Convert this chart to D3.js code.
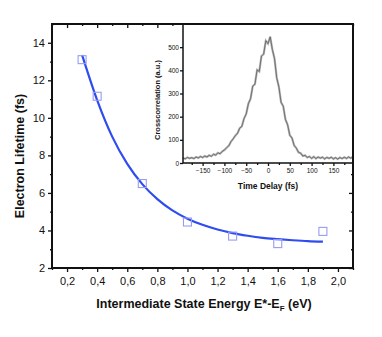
<!DOCTYPE html>
<html>
<head>
<meta charset="utf-8">
<script src="https://cdn.jsdelivr.net/npm/d3@7"></script>
<style>
  body { margin: 0; background: #fff; }
  text { font-family: "Liberation Sans", Arial, sans-serif; fill: #111; }
  .axis path { display: none; }
  .axis line { stroke: #111; stroke-width: 1.3; }
</style>
</head>
<body>
<script>
// lifetime measurements
let energy = [0.3, 0.4, 0.7, 1.0, 1.3, 1.6, 1.9];
let lifetime = [13.1, 11.15, 6.5, 4.45, 3.7, 3.3, 3.95];

// fitted curve
let fitEnergy = [0.3, 0.4, 0.5, 0.6, 0.7, 0.8, 0.9, 1.0, 1.1, 1.2, 1.3, 1.4, 1.5, 1.6, 1.7, 1.8, 1.9];
let fitLifetime = [13.35, 10.95, 9.0, 7.55, 6.47, 5.67, 5.07, 4.63, 4.3, 4.05, 3.86, 3.72, 3.61, 3.54, 3.48, 3.43, 3.4];

let xTicks = [0.2, 0.4, 0.6, 0.8, 1.0, 1.2, 1.4, 1.6, 1.8, 2.0];
let xMinor = [0.1, 0.3, 0.5, 0.7, 0.9, 1.1, 1.3, 1.5, 1.7, 1.9, 2.1];
let yTicks = [2, 4, 6, 8, 10, 12, 14];
let yMinor = [3, 5, 7, 9, 11, 13];

// inset: cross correlation trace, every 5 fs from -195 to 195
let delay = d3.range(-195, 196, 5);
let counts = [22, 18, 24, 20, 23, 19, 26, 22, 28, 24, 30, 26, 33, 29, 38, 34, 44, 40, 50, 56,
              66, 74, 92, 104, 118, 128, 150, 158, 192, 212, 256, 278, 332, 340, 402, 395, 462, 470, 528, 515,
              545, 490, 450, 368, 328, 262, 245, 188, 165, 120, 108, 76, 64, 46, 42, 30, 33, 24, 28, 20,
              27, 19, 26, 21, 25, 18, 24, 20, 25, 18, 23, 17, 24, 19, 25, 20, 26, 21, 27];
let insetXTicks = [-150, -100, -50, 0, 50, 100, 150];
let insetXMinor = [-175, -125, -75, -25, 25, 75, 125, 175];
let insetYTicks = [0, 100, 200, 300, 400, 500];

let svg = d3.select("body").append("svg")
    .attr("width", 382)
    .attr("height", 337);

let x = d3.scaleLinear().domain([0.1, 2.1]).range([52, 353]);
let y = d3.scaleLinear().domain([2, 15]).range([268, 24]);
let comma = (d) => d3.format(".1f")(d).replace(".", ",");

// bottom axis
svg.append("g").attr("class", "axis")
    .attr("transform", "translate(0,268)")
    .call(d3.axisBottom(x).tickValues(xTicks).tickSize(4).tickPadding(5).tickFormat(comma))
    .selectAll("text").style("font-size", "11px");
svg.append("g").attr("class", "axis")
    .attr("transform", "translate(0,268)")
    .call(d3.axisBottom(x).tickValues(xMinor).tickSize(2).tickFormat(""));

// top axis, ticks inward
svg.append("g").attr("class", "axis")
    .attr("transform", "translate(0,24)")
    .call(d3.axisBottom(x).tickValues(xTicks).tickSize(4).tickFormat(""));
svg.append("g").attr("class", "axis")
    .attr("transform", "translate(0,24)")
    .call(d3.axisBottom(x).tickValues(xMinor).tickSize(2).tickFormat(""));

// left axis
svg.append("g").attr("class", "axis")
    .attr("transform", "translate(52,0)")
    .call(d3.axisLeft(y).tickValues(yTicks).tickSize(4).tickPadding(3).tickFormat(d3.format("d")))
    .selectAll("text").style("font-size", "11px");
svg.append("g").attr("class", "axis")
    .attr("transform", "translate(52,0)")
    .call(d3.axisLeft(y).tickValues(yMinor).tickSize(2).tickFormat(""));

// right axis, ticks inward
svg.append("g").attr("class", "axis")
    .attr("transform", "translate(353,0)")
    .call(d3.axisLeft(y).tickValues(yTicks).tickSize(4).tickFormat(""));
svg.append("g").attr("class", "axis")
    .attr("transform", "translate(353,0)")
    .call(d3.axisLeft(y).tickValues(yMinor).tickSize(2).tickFormat(""));

// inset
let ix = d3.scaleLinear().domain([-195, 195]).range([183, 353]);
let iy = d3.scaleLinear().domain([0, 600]).range([163, 24]);

svg.append("rect")
    .attr("x", 183).attr("y", 24)
    .attr("width", 170).attr("height", 139)
    .attr("fill", "#fff");

let trace = d3.line().x((d) => ix(d[0])).y((d) => iy(d[1]));
svg.append("path")
    .datum(delay.map((d, i) => [d, counts[i]]))
    .attr("fill", "none")
    .attr("stroke", "#b4b4b4")
    .attr("stroke-width", 2.2)
    .attr("d", trace);
svg.append("path")
    .datum(delay.map((d, i) => [d, counts[i]]))
    .attr("fill", "none")
    .attr("stroke", "#555")
    .attr("stroke-width", 0.7)
    .attr("d", trace);

svg.append("g").attr("class", "axis")
    .attr("transform", "translate(0,163)")
    .call(d3.axisBottom(ix).tickValues(insetXTicks).tickSize(3).tickPadding(2))
    .selectAll("text").style("font-size", "6.5px");
svg.append("g").attr("class", "axis")
    .attr("transform", "translate(0,163)")
    .call(d3.axisBottom(ix).tickValues(insetXMinor).tickSize(2).tickFormat(""));
svg.append("g").attr("class", "axis")
    .attr("transform", "translate(183,0)")
    .call(d3.axisLeft(iy).tickValues(insetYTicks).tickSize(3).tickPadding(1))
    .selectAll("text").style("font-size", "6.5px");

svg.append("line")
    .attr("x1", 183).attr("x2", 183).attr("y1", 24).attr("y2", 163)
    .attr("stroke", "#111").attr("stroke-width", 1.5);
svg.append("line")
    .attr("x1", 183).attr("x2", 353).attr("y1", 163).attr("y2", 163)
    .attr("stroke", "#111").attr("stroke-width", 1.5);

svg.append("text")
    .attr("transform", "translate(160,100) rotate(-90)")
    .attr("text-anchor", "middle")
    .style("font-size", "7.5px").style("font-weight", "bold")
    .text("Crosscorrelation (a.u.)");
svg.append("text")
    .attr("x", 268).attr("y", 189)
    .attr("text-anchor", "middle")
    .style("font-size", "8.5px").style("font-weight", "bold")
    .text("Time Delay (fs)");

// fit curve and points
svg.append("path")
    .datum(fitEnergy.map((d, i) => [d, fitLifetime[i]]))
    .attr("fill", "none")
    .attr("stroke", "#2f4cf0")
    .attr("stroke-width", 2.2)
    .attr("d", d3.line().curve(d3.curveMonotoneX).x((d) => x(d[0])).y((d) => y(d[1])));

svg.selectAll("rect.pt")
    .data(energy)
    .enter()
        .append("rect")
        .attr("class", "pt")
        .attr("x", (d) => x(d) - 4)
        .attr("y", (d, i) => y(lifetime[i]) - 4)
        .attr("width", 8)
        .attr("height", 8)
        .attr("fill", "none")
        .attr("stroke", "#9a9cf0")
        .attr("stroke-width", 1.1);

// frame
svg.append("rect")
    .attr("x", 52).attr("y", 24)
    .attr("width", 301).attr("height", 244)
    .attr("fill", "none")
    .attr("stroke", "#111")
    .attr("stroke-width", 2);

// titles
svg.append("text")
    .attr("transform", "translate(24,156) rotate(-90)")
    .attr("text-anchor", "middle")
    .style("font-size", "12.5px").style("font-weight", "bold")
    .text("Electron Lifetime (fs)");

let xt = svg.append("text")
    .attr("x", 204).attr("y", 308)
    .attr("text-anchor", "middle")
    .style("font-size", "12.5px").style("font-weight", "bold");
xt.append("tspan").text("Intermediate State Energy E*-E");
xt.append("tspan").attr("dy", 3).style("font-size", "8px").text("F");
xt.append("tspan").attr("dy", -3).text(" (eV)");
</script>
</body>
</html>
